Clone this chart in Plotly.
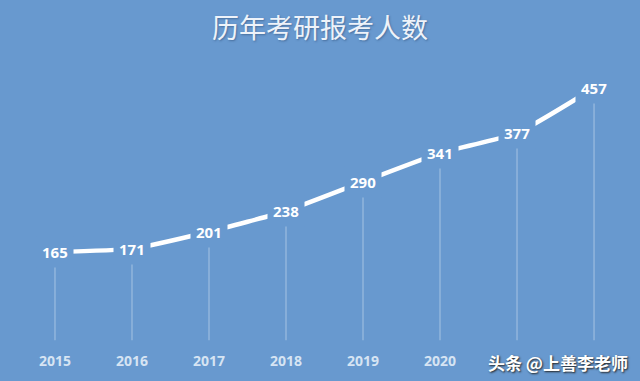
import plotly.graph_objects as go

years = [2015, 2016, 2017, 2018, 2019, 2020, 2021, 2022]
year_labels = ["2015", "2016", "2017", "2018", "2019", "2020", "", ""]  # 2021/2022 hidden by watermark in source
applicants = [165, 171, 201, 238, 290, 341, 377, 457]

title = "历年考研报考人数"
watermark = "头条 @上善李老师"

BG = "#6899cf"

fig = go.Figure()

# drop lines
dx, dy = [], []
for x, y in zip(years, applicants):
    dx += [x, x, None]
    dy += [y - 14, 8, None]
fig.add_trace(go.Scatter(x=dx, y=dy, mode="lines",
                         line=dict(color="rgba(235,242,250,0.4)", width=1.2),
                         hoverinfo="skip", showlegend=False))

fig.add_trace(go.Scatter(x=years, y=applicants, mode="lines",
                         line=dict(color="white", width=4.5, shape="spline", smoothing=0.5),
                         hoverinfo="skip", showlegend=False))

for x, y in zip(years, applicants):
    fig.add_annotation(x=x, y=y, text=f"<b>{y}</b>", showarrow=False,
                       font=dict(family="Open Sans, Liberation Sans, sans-serif", size=15, color="white"),
                       bgcolor=BG, borderpad=5, xanchor="center", yanchor="middle")

fig.add_annotation(xref="paper", yref="paper", x=0.5, y=1, yanchor="top", yshift=-5,
                   text=title, showarrow=False,
                   font=dict(family="Noto Sans CJK SC", size=27, color="#eef3fa",
                             shadow="1px 1px 2px rgba(40,70,110,0.5)"))

fig.add_annotation(xref="paper", yref="paper", x=0.985, y=0, xanchor="right", yanchor="middle",
                   yshift=-11, text=watermark, showarrow=False,
                   font=dict(family="Noto Sans CJK SC", size=17, color="white", weight="bold",
                             shadow="1px 1px 2px #222"))

fig.update_layout(
    width=640, height=381,
    margin=dict(l=0, r=0, t=0, b=30),
    paper_bgcolor=BG, plot_bgcolor=BG,
    xaxis=dict(range=[2014.286, 2022.597], tickvals=years, ticktext=year_labels,
               showgrid=False, zeroline=False, showline=False, ticks="",
               tickfont=dict(family="Open Sans, Liberation Sans, sans-serif", size=14,
                             color="#d6e4f3", weight="bold")),
    yaxis=dict(range=[-11.3, 613.7], visible=False, showgrid=False, zeroline=False),
)

fig.write_html("out.html")
